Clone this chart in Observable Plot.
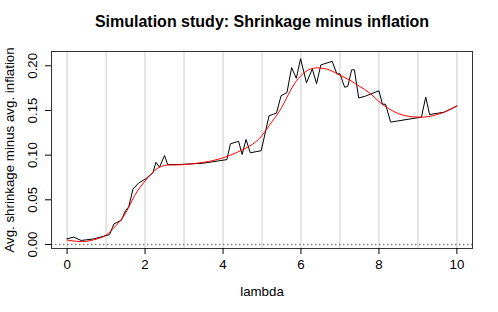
<!DOCTYPE html>
<html><head><meta charset="utf-8">
<script src="https://cdn.jsdelivr.net/npm/d3@7"></script>
<script src="https://cdn.jsdelivr.net/npm/@observablehq/plot@0.6"></script>
<style>body{margin:0;background:#fff}</style>
</head><body><div id="chart"></div><script>
const titleText = "Simulation study: Shrinkage minus inflation";
const xLabel = "lambda";
const yLabel = "Avg. shrinkage minus avg. inflation";

// noisy simulation result (black)
const rawLambda = [0,0.17,0.36,0.68,1.09,1.2,1.39,1.5,1.58,1.69,1.84,2.0,2.2,2.28,2.37,2.5,2.58,2.85,3.1,3.5,3.95,4.1,4.19,4.4,4.49,4.59,4.7,4.98,5.18,5.3,5.37,5.49,5.64,5.76,5.88,5.99,6.14,6.29,6.4,6.51,6.8,6.92,7.0,7.12,7.2,7.3,7.37,7.48,7.65,8.0,8.09,8.17,8.3,9.09,9.2,9.3,9.67,10.0];
const rawValue  = [0.0064,0.0082,0.0045,0.0062,0.011,0.023,0.027,0.038,0.042,0.062,0.069,0.073,0.080,0.092,0.0865,0.0996,0.0895,0.0895,0.090,0.091,0.094,0.095,0.1127,0.1155,0.1007,0.1175,0.1026,0.105,0.144,0.146,0.147,0.1665,0.170,0.198,0.186,0.208,0.181,0.1965,0.180,0.201,0.205,0.191,0.191,0.176,0.177,0.1955,0.1955,0.164,0.166,0.172,0.157,0.157,0.137,0.1425,0.165,0.1455,0.148,0.155];

// smooth fit (red)
const smoothLambda = [0,0.25,0.5,0.75,1.0,1.25,1.5,1.75,2.0,2.25,2.5,2.75,3.0,3.25,3.5,3.75,4.0,4.25,4.5,4.75,5.0,5.25,5.5,5.75,6.0,6.25,6.5,6.75,7.0,7.25,7.5,7.75,8.0,8.25,8.5,8.75,9.0,9.25,9.5,9.75,10.0];
const smoothValue  = [0.005,0.0035,0.0035,0.006,0.0105,0.021,0.035,0.056,0.071,0.083,0.0885,0.089,0.0895,0.0905,0.092,0.094,0.097,0.101,0.106,0.112,0.122,0.137,0.153,0.174,0.189,0.1965,0.1975,0.195,0.1895,0.184,0.177,0.170,0.160,0.152,0.1465,0.1435,0.1425,0.143,0.1455,0.1495,0.155];

const xTicks = [0,2,4,6,8,10];
const yTicks = [0,0.05,0.10,0.15,0.20];
const gridLines = [0,1,2,3,4,5,6,7,8,9,10];
const refLine = [0];

const raw = rawLambda.map((l,i)=>({lambda:l, value:rawValue[i]}));
const smooth = smoothLambda.map((l,i)=>({lambda:l, value:smoothValue[i]}));

const font = "Liberation Sans, Arial, Helvetica, sans-serif";

const chart = Plot.plot({
  width: 498,
  height: 312,
  marginLeft: 51,
  marginRight: 26,
  marginTop: 51,
  marginBottom: 64,
  style: {fontFamily: font, fontSize: "13.3px", background: "#fff", color: "#000"},
  x: {domain: [-0.4, 10.4]},
  y: {domain: [-0.0045, 0.216]},
  marks: [
    Plot.ruleX(gridLines, {stroke: "#cccccc", strokeWidth: 1}),
    Plot.ruleY(refLine, {stroke: "#808080", strokeWidth: 1.5, strokeDasharray: "1.5,2.5"}),
    Plot.line(raw, {x: "lambda", y: "value", stroke: "#000", strokeWidth: 1}),
    Plot.line(smooth, {x: "lambda", y: "value", stroke: "#ff0000", strokeWidth: 1, curve: "natural"}),
    Plot.frame({stroke: "#333", strokeWidth: 1}),
    Plot.axisX(xTicks, {tickSize: 6, tickPadding: 5, fontSize: 13.3, label: xLabel, labelAnchor: "center", labelOffset: 47, labelArrow: "none"}),
    Plot.axisY(yTicks, {tickSize: 6, tickPadding: 9, tickRotate: -90, tickFormat: d3.format(".2f"), fontSize: 13.3, label: yLabel, labelAnchor: "center", labelOffset: 47, labelArrow: "none"}),
    Plot.text([titleText], {frameAnchor: "top", dy: -30, lineAnchor: "middle", fontSize: 16, fontWeight: "bold", text: d => d})
  ]
});
document.getElementById("chart").appendChild(chart);
</script></body></html>
